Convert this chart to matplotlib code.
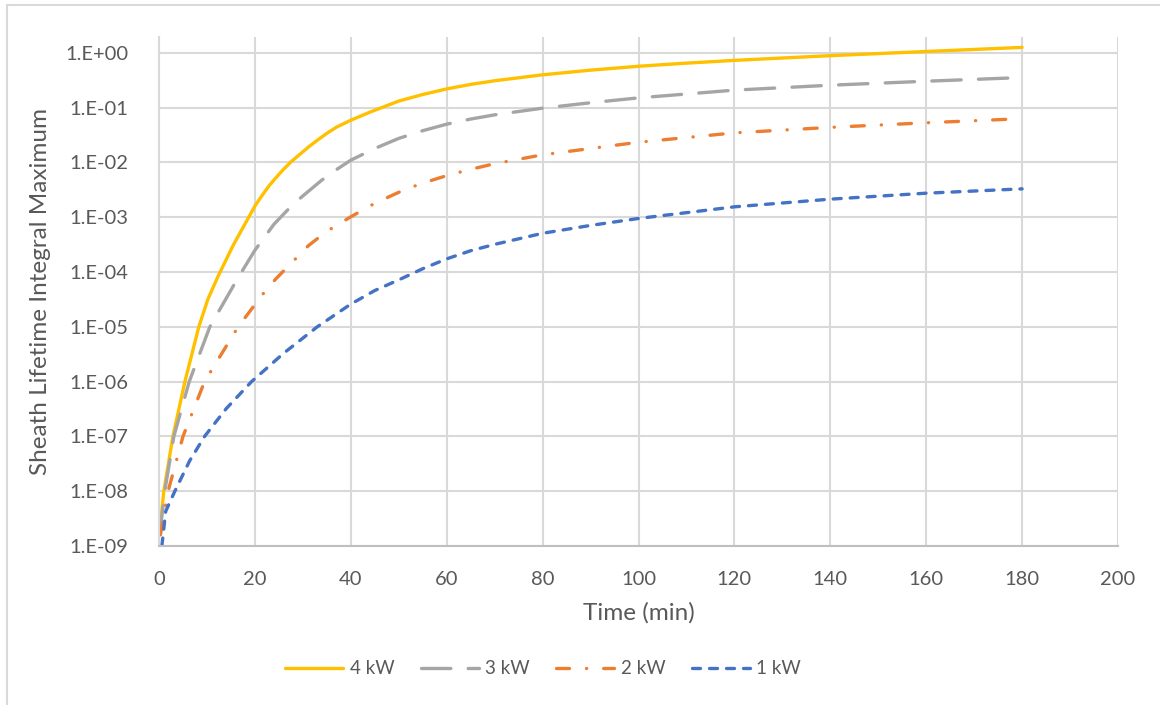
import matplotlib
matplotlib.use("Agg")
import matplotlib.pyplot as plt
from matplotlib.lines import Line2D

plt.rcParams["font.family"] = ["Lato", "DejaVu Sans"]

# time (min) and values, one pair of lists per series
t_4kw = [0.15, 1.0, 2.9, 5.4, 8.3, 10.2, 12.3, 15.4, 20, 21.5, 23, 24.5, 25.9,
         27.5, 29, 31, 32.9, 35, 37, 40, 44, 50, 55, 60, 65, 70, 80, 90, 100,
         110, 120, 140, 160, 180]
v_4kw = [1.8e-9, 1e-8, 1e-7, 1e-6, 1e-5, 3.2e-5, 8.3e-5, 3.0e-4, 1.6e-3,
         2.5e-3, 3.8e-3, 5.4e-3, 7.4e-3, 1.02e-2, 1.32e-2, 1.86e-2, 2.5e-2,
         3.4e-2, 4.4e-2, 5.9e-2, 8.3e-2, 1.32e-1, 1.74e-1, 2.2e-1, 2.66e-1,
         3.1e-1, 3.98e-1, 4.84e-1, 5.7e-1, 6.5e-1, 7.3e-1, 8.9e-1, 1.06, 1.26]

t_3kw = [0.15, 1.2, 3.1, 6.3, 10.6, 16.5, 20, 24, 28, 31, 34, 37, 40, 45, 50,
         55, 60, 65, 70, 80, 90, 100, 120, 140, 160, 180]
v_3kw = [1.6e-9, 1e-8, 1e-7, 1e-6, 1e-5, 7.9e-5, 2.5e-4, 7.5e-4, 1.74e-3,
         2.9e-3, 4.8e-3, 7.4e-3, 1.1e-2, 1.8e-2, 2.75e-2, 3.8e-2, 5.0e-2,
         6.2e-2, 7.4e-2, 9.8e-2, 1.23e-1, 1.51e-1, 2.09e-1, 2.57e-1, 3.04e-1,
         3.55e-1]

t_2kw = [0.3, 1.9, 5.0, 9.5, 16.5, 21.7, 24.3, 31.1, 34.8, 40, 45, 50.9, 55,
         60, 65, 70, 80, 90, 100, 120, 140, 160, 180]
v_2kw = [1.6e-9, 1e-8, 1e-7, 1e-6, 1e-5, 4.0e-5, 7.4e-5, 3.0e-4, 5.4e-4,
         1.02e-3, 1.8e-3, 3.1e-3, 4.2e-3, 5.75e-3, 7.5e-3, 9.5e-3, 1.38e-2,
         1.8e-2, 2.34e-2, 3.47e-2, 4.37e-2, 5.3e-2, 6.3e-2]

t_1kw = [0.6, 1.4, 3.3, 6.4, 9.5, 14, 19.3, 26, 33, 40, 45, 50.3, 55, 60, 65,
         70, 80, 90, 100, 120, 140, 160, 180]
v_1kw = [1.0e-9, 4.3e-9, 1e-8, 3.6e-8, 1e-7, 3.2e-7, 1e-6, 3.3e-6, 1e-5,
         2.6e-5, 4.6e-5, 7.4e-5, 1.15e-4, 1.74e-4, 2.45e-4, 3.2e-4, 5.1e-4,
         7.1e-4, 9.5e-4, 1.55e-3, 2.14e-3, 2.75e-3, 3.3e-3]

x_ticks = [0, 20, 40, 60, 80, 100, 120, 140, 160, 180, 200]
y_ticks = [1e-9, 1e-8, 1e-7, 1e-6, 1e-5, 1e-4, 1e-3, 1e-2, 1e-1, 1e0]
y_ticklabels = ["1.E-09", "1.E-08", "1.E-07", "1.E-06", "1.E-05", "1.E-04",
                "1.E-03", "1.E-02", "1.E-01", "1.E+00"]

TEXT = "#595959"
GRID = "#D9D9D9"

fig = plt.figure(figsize=(11.6, 7.05), dpi=100)
ax = fig.add_axes([159 / 1160, 1 - 546 / 705, (1118 - 159) / 1160, (546 - 37) / 705])

# outer chart border (only left and top edges are visible)
fig.add_artist(Line2D([7 / 1160, 7 / 1160], [0, 1 - 5 / 705], color=GRID, lw=1.5,
                      transform=fig.transFigure))
fig.add_artist(Line2D([7 / 1160, 1], [1 - 5 / 705, 1 - 5 / 705], color=GRID, lw=1.5,
                      transform=fig.transFigure))

lw = 2.4
ax.plot(t_4kw, v_4kw, color="#FFC000", lw=lw, solid_capstyle="round",
        solid_joinstyle="round", label="4 kW")
ax.plot(t_3kw, v_3kw, color="#A5A5A5", lw=lw, dash_capstyle="round",
        dashes=(8.8, 5.2), label="3 kW")
ax.plot(t_2kw, v_2kw, color="#ED7D31", lw=lw, dash_capstyle="round",
        dashes=(3.9, 5.1, 0.05, 5.1), label="2 kW")
ax.plot(t_1kw, v_1kw, color="#4472C4", lw=lw, dash_capstyle="round",
        dashes=(2.4, 2.7), label="1 kW")

ax.set_yscale("log")
ax.set_xlim(0, 200)
ax.set_ylim(1e-9, 10 ** 0.29)
ax.set_xticks(x_ticks)
ax.set_yticks(y_ticks)
ax.set_yticklabels(y_ticklabels)
ax.yaxis.set_minor_locator(matplotlib.ticker.NullLocator())
ax.tick_params(length=0, labelsize=14.5, labelcolor=TEXT)
ax.tick_params(axis="x", pad=18)
ax.tick_params(axis="y", pad=22)

ax.grid(True, color=GRID, lw=1.5)
ax.set_axisbelow(True)
for side in ("top", "right"):
    ax.spines[side].set_visible(False)
ax.spines["left"].set_color(GRID)
ax.spines["left"].set_linewidth(1.5)
ax.spines["bottom"].set_color("#BFBFBF")
ax.spines["bottom"].set_linewidth(1.5)

ax.set_xlabel("Time (min)", fontsize=17.5, color=TEXT, labelpad=10)
ax.set_ylabel("Sheath Lifetime Integral Maximum", fontsize=17.5, color=TEXT,
              labelpad=10)

fig.legend(loc="center", bbox_to_anchor=(543 / 1160, 1 - 669 / 705), ncol=4,
           frameon=False, fontsize=13.5, labelcolor=TEXT, handlelength=3.1,
           handletextpad=0.35, columnspacing=1.4)

fig.savefig("out.png", dpi=100)
